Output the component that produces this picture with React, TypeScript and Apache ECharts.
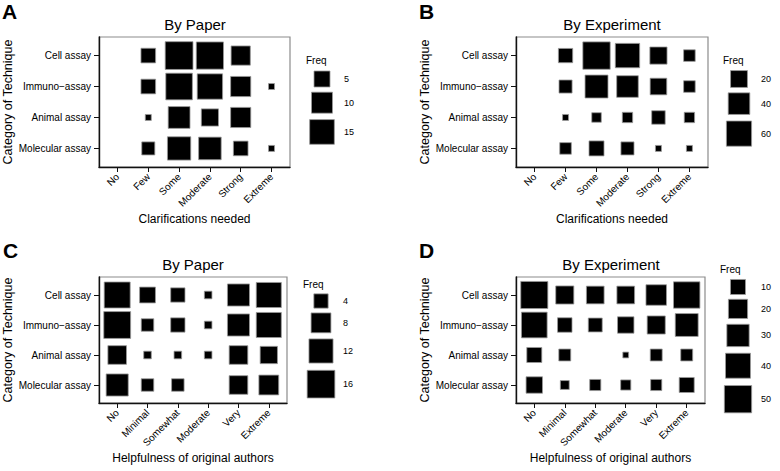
import React, { useEffect, useRef } from "react";
import * as echarts from "echarts";

// ---------- data ----------
const techniques = ["Cell assay", "Immuno\u2212assay", "Animal assay", "Molecular assay"];
const clarificationLevels = ["No", "Few", "Some", "Moderate", "Strong", "Extreme"];
const helpfulnessLevels = ["No", "Minimal", "Somewhat", "Moderate", "Very", "Extreme"];

// rows: techniques, columns: levels (0 = no observation)
const clarByPaper = [
  [0, 4, 20, 19, 8, 0],
  [0, 4, 18, 16, 9, 1],
  [0, 1, 11, 6, 9, 0],
  [0, 3, 13, 12, 4, 1],
];
const clarByExperiment = [
  [0, 12, 74, 55, 21, 6],
  [0, 9, 47, 40, 19, 6],
  [0, 1, 3, 4, 10, 4],
  [0, 6, 14, 9, 1, 1],
];
const helpByPaper = [
  [14, 5, 4, 1, 10, 13],
  [15, 3, 4, 1, 10, 13],
  [7, 1, 1, 1, 7, 6],
  [10, 3, 3, 0, 7, 8],
];
const helpByExperiment = [
  [49, 17, 16, 16, 24, 46],
  [43, 9, 8, 13, 17, 32],
  [10, 5, 0, 1, 5, 5],
  [13, 2, 4, 3, 4, 10],
];

const legendClarPaper = [5, 10, 15];
const legendClarExperiment = [20, 40, 60];
const legendHelpPaper = [4, 8, 12, 16];
const legendHelpExperiment = [10, 20, 30, 40, 50];

// ---------- styling / layout ----------
const FONT = "'Liberation Sans', Arial, Helvetica, sans-serif";

type SizeParams = { base: number; k: number; off: number };
const sizeOf = (p: SizeParams) => (v: number) => p.base + p.k * Math.sqrt(Math.max(v - p.off, 0));

const panels = [
  {
    letter: "A", title: "By Paper", xName: "Clarifications needed",
    levels: clarificationLevels, values: clarByPaper, legend: legendClarPaper,
    size: { base: 6, k: 5, off: 1 },
    grid: { left: 99, top: 37, width: 191, height: 130 },
    letterPos: [2, 11], titlePos: [195, 24],
    leg: { freqX: 306, freqY: 60, boxX: 322, firstY: 79, labelX: 344 },
    xNameGap: 46,
  },
  {
    letter: "B", title: "By Experiment", xName: "Clarifications needed",
    levels: clarificationLevels, values: clarByExperiment, legend: legendClarExperiment,
    size: { base: 6, k: 2.5, off: 1 },
    grid: { left: 516, top: 37, width: 192, height: 130 },
    letterPos: [419, 11], titlePos: [612, 24],
    leg: { freqX: 723, freqY: 60, boxX: 739, firstY: 79, labelX: 761 },
    xNameGap: 46,
  },
  {
    letter: "C", title: "By Paper", xName: "Helpfulness of original authors",
    levels: helpfulnessLevels, values: helpByPaper, legend: legendHelpPaper,
    size: { base: 0.9, k: 6.7, off: 0 },
    grid: { left: 99, top: 277, width: 188, height: 126 },
    letterPos: [3, 250], titlePos: [193, 264],
    leg: { freqX: 303, freqY: 284, boxX: 321, firstY: 301, labelX: 343 },
    xNameGap: 49,
  },
  {
    letter: "D", title: "By Experiment", xName: "Helpfulness of original authors",
    levels: helpfulnessLevels, values: helpByExperiment, legend: legendHelpExperiment,
    size: { base: 5.8, k: 3.07, off: 1 },
    grid: { left: 516, top: 277, width: 189, height: 126 },
    letterPos: [419, 250], titlePos: [611, 264],
    leg: { freqX: 720, freqY: 269, boxX: 738, firstY: 287, labelX: 761 },
    xNameGap: 49,
  },
];

function buildOption() {
  const grid: any[] = [];
  const xAxis: any[] = [];
  const yAxis: any[] = [];
  const series: any[] = [];
  const graphic: any[] = [];

  panels.forEach((p, i) => {
    const sz = sizeOf(p.size);
    grid.push({
      ...p.grid,
      show: true,
      borderColor: "#8c8c8c",
      borderWidth: 1.2,
      backgroundColor: "#fff",
      containLabel: false,
    });
    xAxis.push({
      type: "value",
      gridIndex: i,
      min: 0.4,
      max: 6.6,
      name: p.xName,
      nameLocation: "middle",
      nameGap: p.xNameGap,
      nameTextStyle: { fontFamily: FONT, fontSize: 12, color: "#000" },
      axisLine: { show: true, onZero: false, lineStyle: { color: "#111", width: 1.4 } },
      axisTick: { show: true, length: 5, customValues: [1, 2, 3, 4, 5, 6], lineStyle: { color: "#111", width: 1 } },
      axisLabel: {
        show: true,
        customValues: [1, 2, 3, 4, 5, 6],
        rotate: 45,
        margin: 8,
        fontFamily: FONT,
        fontSize: 10,
        color: "#000",
        formatter: (v: number) => p.levels[Math.round(v) - 1] ?? "",
      },
      splitLine: { show: false },
    });
    yAxis.push({
      type: "value",
      gridIndex: i,
      min: 0.4,
      max: 4.6,
      inverse: true,
      name: "Category of Technique",
      nameLocation: "middle",
      nameGap: 83,
      nameTextStyle: { fontFamily: FONT, fontSize: 12.5, color: "#000" },
      axisLine: { show: true, onZero: false, lineStyle: { color: "#111", width: 1.4 } },
      axisTick: { show: true, length: 5, customValues: [1, 2, 3, 4], lineStyle: { color: "#111", width: 1 } },
      axisLabel: {
        show: true,
        customValues: [1, 2, 3, 4],
        margin: 8,
        fontFamily: FONT,
        fontSize: 10,
        color: "#000",
        formatter: (v: number) => techniques[Math.round(v) - 1] ?? "",
      },
      splitLine: { show: false },
    });
    const data: number[][] = [];
    p.values.forEach((row, r) =>
      row.forEach((v, c) => {
        if (v > 0) data.push([c + 1, r + 1, v]);
      })
    );
    series.push({
      type: "scatter",
      xAxisIndex: i,
      yAxisIndex: i,
      symbol: "rect",
      symbolSize: (d: number[]) => sz(d[2]),
      itemStyle: { color: "#000", borderColor: "#9a9a9a", borderWidth: 0.8, opacity: 1 },
      emphasis: { disabled: true },
      data,
    });

    // panel letter
    graphic.push({
      type: "text",
      x: p.letterPos[0],
      y: p.letterPos[1],
      style: { text: p.letter, font: `bold 21px ${FONT}`, fill: "#000", textAlign: "left", textVerticalAlign: "middle" },
    });
    // title
    graphic.push({
      type: "text",
      x: p.titlePos[0],
      y: p.titlePos[1],
      style: { text: p.title, font: `15px ${FONT}`, fill: "#000", textAlign: "center", textVerticalAlign: "middle" },
    });
    // legend
    graphic.push({
      type: "text",
      x: p.leg.freqX,
      y: p.leg.freqY,
      style: { text: "Freq", font: `10px ${FONT}`, fill: "#000", textAlign: "left", textVerticalAlign: "middle" },
    });
    let cy = p.leg.firstY;
    let prev = 0;
    p.legend.forEach((v, j) => {
      const s = sz(v);
      if (j > 0) cy += 1.28 * (prev + s) / 2;
      prev = s;
      graphic.push({
        type: "rect",
        shape: { x: p.leg.boxX - s / 2, y: cy - s / 2, width: s, height: s },
        style: { fill: "#000", stroke: "#9a9a9a", lineWidth: 0.8 },
      });
      graphic.push({
        type: "text",
        x: p.leg.labelX,
        y: cy,
        style: { text: String(v), font: `9px ${FONT}`, fill: "#000", textAlign: "left", textVerticalAlign: "middle" },
      });
    });
  });

  return {
    animation: false,
    backgroundColor: "#fff",
    textStyle: { fontFamily: FONT },
    grid,
    xAxis,
    yAxis,
    series,
    graphic,
  };
}

export default function App() {
  const ref = useRef<HTMLDivElement>(null);
  useEffect(() => {
    if (!ref.current) return;
    const chart = echarts.init(ref.current, undefined, { renderer: "svg" });
    chart.setOption(buildOption() as any);
    return () => chart.dispose();
  }, []);
  return (
    <div
      ref={ref}
      style={{ position: "fixed", left: 0, top: 0, width: 780, height: 471, background: "#fff" }}
    />
  );
}
